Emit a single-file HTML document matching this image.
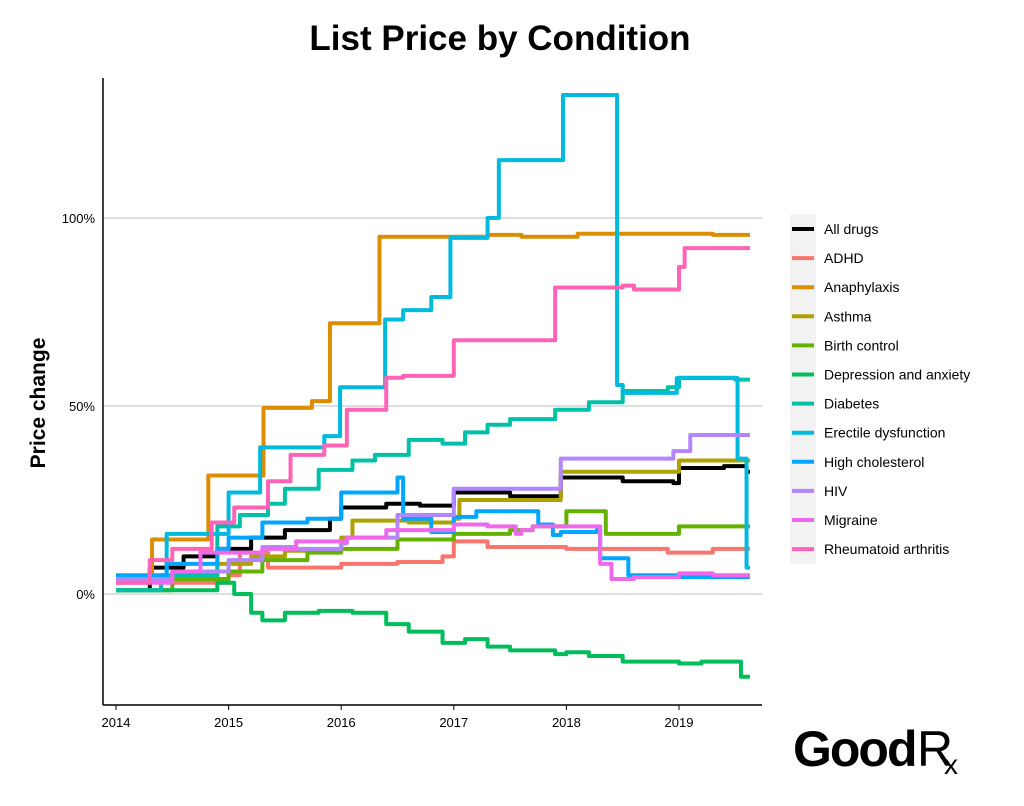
<!DOCTYPE html>
<html><head><meta charset="utf-8"><style>
body{margin:0;background:#fff;font-family:"Liberation Sans",Arial,sans-serif}
svg text{font-family:"Liberation Sans",Arial,sans-serif}
</style></head><body>
<svg id="c" width="1024" height="801">
<text x="500" y="50" text-anchor="middle" font-size="35" font-weight="bold">List Price by Condition</text>
<text transform="translate(45,403) rotate(-90)" text-anchor="middle" font-size="21" font-weight="bold">Price change</text>
<g id="grid"></g><g id="lines"></g><g id="axes"></g><g id="legend"></g>
<g>
<text x="793" y="766" font-size="50" font-weight="bold" letter-spacing="-2">Good</text>
<text x="917" y="766" font-size="50" font-weight="normal">R</text>
<text x="944" y="774" font-size="28">x</text>
</g>
</svg>
<script>
const yearTicks=[2014,2015,2016,2017,2018,2019];
const pctTicks=[0,50,100];
const seriesNames=["All drugs","ADHD","Anaphylaxis","Asthma","Birth control","Depression and anxiety","Diabetes","Erectile dysfunction","High cholesterol","HIV","Migraine","Rheumatoid arthritis"];
const seriesColors=["#000000","#F8766D","#DB8E00","#AEA200","#64B200","#00BD5C","#00C1A7","#00BADE","#00A6FF","#B385FF","#EF67EB","#FF63B6"];
const allDrugs=[[2014,1],[2014.3,7],[2014.6,10],[2014.9,12],[2015.2,15],[2015.5,17],[2015.9,20],[2016.0,23],[2016.4,24],[2016.7,23.5],[2017.0,27],[2017.5,26],[2017.95,31],[2018.5,30],[2018.95,29.5],[2019.0,33.5],[2019.4,34],[2019.6,32.5]];
const adhd=[[2014,1],[2014.5,3],[2015.0,5],[2015.1,11],[2015.35,7],[2016.0,8],[2016.5,8.5],[2016.9,10],[2017.0,14],[2017.3,12.5],[2018.0,12],[2018.9,11],[2019.3,12]];
const anaphylaxis=[[2014,3],[2014.07,4.5],[2014.32,14.5],[2014.82,31.5],[2015.31,49.5],[2015.74,51.3],[2015.9,72],[2016.34,95],[2017.3,95.5],[2017.6,95],[2018.1,95.8],[2019.3,95.5]];
const asthma=[[2014,1],[2014.4,4],[2014.9,8],[2015.2,10],[2015.5,11.5],[2016.0,15],[2016.1,19.5],[2016.6,19],[2017.0,20],[2017.05,25],[2017.95,32.5],[2019.0,35.5]];
const birthControl=[[2014,1],[2014.5,4],[2015.0,6],[2015.3,9],[2015.7,11],[2016.0,12],[2016.5,14.5],[2017.0,16],[2017.5,17],[2017.7,18],[2018.0,22],[2018.35,16],[2019.0,18]];
const depression=[[2014,1],[2014.9,3],[2015.05,0],[2015.2,-5],[2015.3,-7],[2015.5,-5],[2015.8,-4.5],[2016.1,-5],[2016.4,-8],[2016.6,-10],[2016.9,-13],[2017.1,-12],[2017.3,-14],[2017.5,-15],[2017.9,-16],[2018.0,-15.5],[2018.2,-16.5],[2018.5,-18],[2019.0,-18.5],[2019.2,-18],[2019.55,-22]];
const diabetes=[[2014,1],[2014.4,5],[2014.9,18],[2015.1,21],[2015.35,24],[2015.5,28],[2015.8,33],[2016.1,35.5],[2016.3,37],[2016.6,41],[2016.9,40],[2017.1,43],[2017.3,45],[2017.5,46.5],[2017.9,49],[2018.2,51],[2018.5,54],[2018.9,55],[2019.0,57.5],[2019.5,57]];
const erectile=[[2014,4],[2014.45,16],[2015.0,27],[2015.28,39],[2015.85,42],[2015.99,55],[2016.39,73],[2016.55,75.5],[2016.8,79],[2016.97,94.7],[2017.3,100],[2017.4,115.4],[2017.97,132.7],[2018.45,55.6],[2018.5,53.5],[2018.98,57.4],[2019.52,36],[2019.6,7]];
const cholesterol=[[2014,5],[2014.45,8],[2014.9,12],[2015.0,15],[2015.3,19],[2015.7,20],[2016.0,27],[2016.5,31],[2016.55,20],[2016.8,16.5],[2017.0,20.5],[2017.2,22],[2017.75,18.5],[2017.88,15.7],[2017.95,16.5],[2018.27,17],[2018.3,9.5],[2018.55,5],[2019.0,4.5]];
const hiv=[[2014,4],[2014.5,6],[2015.0,9],[2015.3,12.5],[2015.6,12],[2016.0,13.5],[2016.05,15],[2016.5,21],[2017.0,28],[2017.95,36],[2018.95,38],[2019.1,42.3]];
const migraine=[[2014,3],[2014.5,6],[2014.75,11],[2015.3,12],[2015.6,14],[2016.05,15],[2016.4,17],[2017.0,18.5],[2017.3,18],[2017.55,16],[2017.6,17],[2017.7,18],[2018.3,8],[2018.4,4],[2018.6,4.5],[2019.0,5.5],[2019.3,5]];
const rheumatoid=[[2014,3],[2014.3,9],[2014.5,12],[2014.85,19],[2015.05,23],[2015.35,30],[2015.55,37],[2015.85,39.5],[2016.05,49],[2016.4,57.5],[2016.55,58],[2017.0,67.5],[2017.9,81.5],[2018.5,82],[2018.6,81],[2019.0,87],[2019.05,92]];
const seriesData=[allDrugs,adhd,anaphylaxis,asthma,birthControl,depression,diabetes,erectile,cholesterol,hiv,migraine,rheumatoid];
const xEnd=2019.63;
const NS="http://www.w3.org/2000/svg";
const X=t=>116+(t-2014)*112.6;
const Y=v=>594-v*3.76;
function mk(tag,attrs,parent){const e=document.createElementNS(NS,tag);for(const k in attrs)e.setAttribute(k,attrs[k]);parent.appendChild(e);return e;}
const grid=document.getElementById('grid'),axes=document.getElementById('axes'),lines=document.getElementById('lines'),legend=document.getElementById('legend');
pctTicks.forEach(p=>{
 const l=mk('line',{x1:103,x2:762,y1:Y(p),y2:Y(p),stroke:'#bdbdbd','stroke-width':1},grid);
 
 
 const t=mk('text',{x:95,y:Y(p)+5,'text-anchor':'end','font-size':13},axes);t.textContent=p+'%';
 
 
});
const ya=mk('line',{x1:103,x2:103,y1:78,y2:705,stroke:'#000','stroke-width':1.5},axes);


const xa=mk('line',{x1:103,x2:762,y1:705,y2:705,stroke:'#000','stroke-width':1.5},axes);


yearTicks.forEach(y=>{
 const tk=mk('line',{x1:X(y),x2:X(y),y1:705,y2:710,stroke:'#000'},axes);
 
 
 const t=mk('text',{x:X(y),y:727,'text-anchor':'middle','font-size':13},axes);t.textContent=y;
 
 
});
seriesData.forEach((d,i)=>{
 let p='M'+X(d[0][0])+','+Y(d[0][1]);
 for(let k=1;k<d.length;k++){p+=' H'+X(d[k][0])+' V'+Y(d[k][1]);}
 p+=' H'+X(xEnd);
 const e=mk('path',{d:p,fill:'none',stroke:seriesColors[i],'stroke-width':4,'stroke-linejoin':'round'},lines);
 
 
});
seriesNames.forEach((n,i)=>{
 const y=229+i*29.1;
 const g=mk('g',{},legend);
 
 
 mk('rect',{x:790,y:y-14.5,width:26,height:29,fill:'#f2f2f2'},g);
 mk('line',{x1:792,x2:814,y1:y,y2:y,stroke:seriesColors[i],'stroke-width':4},g);
 const t=mk('text',{x:824,y:y+5,'font-size':14},g);t.textContent=n;
});
</script>
</body></html>
